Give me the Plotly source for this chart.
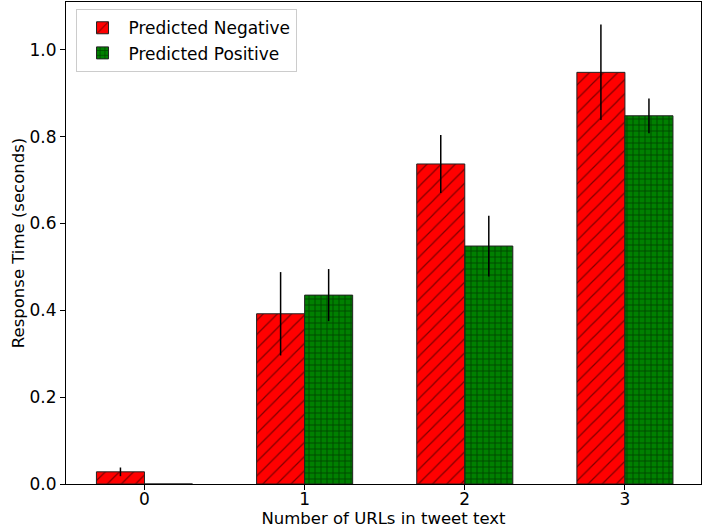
import plotly.graph_objects as go

categories = [0, 1, 2, 3]
neg_values = [0.028, 0.392, 0.737, 0.948]
neg_errors = [0.010, 0.096, 0.067, 0.110]
pos_values = [0.0, 0.435, 0.548, 0.848]
pos_errors = [0.0, 0.060, 0.070, 0.040]
tick_labels = ["0", "1", "2", "3"]

bar_w = 0.3
neg_x = [c - bar_w / 2 for c in categories]
pos_x = [c + bar_w / 2 for c in categories]

font = "DejaVu Sans, Arial, sans-serif"

fig = go.Figure()
fig.add_trace(go.Bar(
    x=neg_x, y=neg_values, width=bar_w, name="Predicted Negative",
    marker=dict(color="#ff0000", line=dict(color="#222222", width=1),
                pattern=dict(shape="/", fgcolor="black", bgcolor="#ff0000",
                             size=10, solidity=0.12, fillmode="overlay")),
    error_y=dict(type="data", array=neg_errors, visible=True, color="black",
                 thickness=1.5, width=0),
))
fig.add_trace(go.Bar(
    x=pos_x, y=pos_values, width=bar_w, name="Predicted Positive",
    marker=dict(color="#008000", line=dict(color="#222222", width=1),
                pattern=dict(shape="+", fgcolor="black", bgcolor="#008000",
                             size=6, solidity=0.25, fillmode="overlay")),
    error_y=dict(type="data", array=pos_errors, visible=True, color="black",
                 thickness=1.5, width=0),
))

fig.update_layout(
    width=717, height=529,
    margin=dict(l=66, r=16, t=2, b=45),
    plot_bgcolor="white", paper_bgcolor="white",
    font=dict(family=font, size=17, color="black"),
    barmode="overlay",
    showlegend=True,
    legend=dict(x=0.015, y=0.985, xanchor="left", yanchor="top",
                bgcolor="rgba(255,255,255,0.8)", bordercolor="#cccccc",
                borderwidth=1, font=dict(size=17, family=font),
                tracegroupgap=2, itemwidth=42),
    xaxis=dict(
        range=[-0.49, 3.475], tickmode="array", tickvals=categories,
        ticktext=tick_labels, showgrid=False, zeroline=False,
        showline=True, linecolor="black", linewidth=1, mirror=True,
        ticks="outside", ticklen=5, tickcolor="black",
        ticklabelstandoff=-5,
        title=dict(text="Number of URLs in tweet text", standoff=0,
                   font=dict(size=16.5)),
    ),
    yaxis=dict(
        range=[0, 1.11], tickmode="array",
        tickvals=[0, 0.2, 0.4, 0.6, 0.8, 1.0],
        ticktext=["0.0", "0.2", "0.4", "0.6", "0.8", "1.0"],
        showgrid=False, zeroline=False,
        showline=True, linecolor="black", linewidth=1, mirror=True,
        ticks="outside", ticklen=5, tickcolor="black",
        title=dict(text="Response Time (seconds)", standoff=0,
                   font=dict(size=16.5)),
    ),
)

fig.write_html(
    "out.html",
    config={"displayModeBar": False},
    post_script="document.body.style.margin='0';document.body.style.overflow='hidden';",
)
